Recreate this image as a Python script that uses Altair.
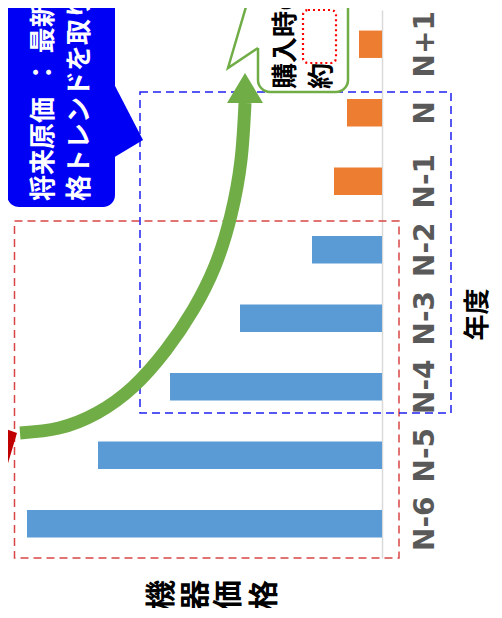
import altair as alt
import pandas as pd

# ---------------- chart data ----------------
categories = ["N-6", "N-5", "N-4", "N-3", "N-2", "N-1", "N", "N+1"]
prices = [355, 284, 212, 142, 70, 48, 35, 23]
periods = ["過去", "過去", "過去", "過去", "過去", "将来", "将来", "将来"]
period_names = ["過去", "将来"]
period_colors = ["#5B9BD5", "#ED7D31"]
x_axis_title = "年度"
y_axis_title = ["機", "器", "価", "格"]
note_blue = ["将来原価\u00a0\u00a0：\u00a0最新の価", "格トレンドを取り込んだ"]
note_green = ["購入時の", "約"]

# growth-curve arrow path (plot pixels)
curve_x = [12, 51, 89, 125, 158, 185, 207, 223, 233, 237]
curve_y = [423, 418, 403, 377, 340, 300, 256, 205, 150, 93]

W, H = 374, 548
GREEN = "#70AD47"
JP = "Noto Sans CJK JP"

bars_df = pd.DataFrame({"cat": categories, "price": prices, "period": periods})

bars = alt.Chart(bars_df).mark_bar().encode(
    y=alt.Y(
        "cat:N",
        sort=categories[::-1],
        scale=alt.Scale(paddingInner=0.6, paddingOuter=0.3),
        axis=alt.Axis(
            orient="right", title=x_axis_title, ticks=False, tickSize=0,
            domainColor="#D9D9D9", domainWidth=1.5,
            labelAngle=270, labelAlign="center", labelBaseline="top",
            labelPadding=29, labelFont="DejaVu Sans", labelFontSize=28,
            labelFontWeight="bold", labelColor="#595959", labelOverlap=False,
            titleAngle=270, titleAlign="center", titleBaseline="middle",
            titleX=95, titleY=304, titleFont=JP, titleFontSize=26,
            titleFontWeight="bold", titleColor="#000000",
        ),
    ),
    x=alt.X("price:Q", scale=alt.Scale(domain=[0, W], reverse=True, nice=False), axis=None),
    color=alt.Color("period:N", scale=alt.Scale(domain=period_names, range=period_colors), legend=None),
)


def PX(f):
    return alt.X(f"{f}:Q", scale=None)


def PY(f):
    return alt.Y(f"{f}:Q", scale=None)


def box(x, x2, y, y2, **mk):
    d = pd.DataFrame({"x": [x], "x2": [x2], "y": [y], "y2": [y2]})
    return alt.Chart(d).mark_rect(**mk).encode(x=PX("x"), x2="x2", y=PY("y"), y2="y2")


def tri(xs, ys, ys2, color):
    d = pd.DataFrame({"x": xs, "y": ys, "y2": ys2})
    return alt.Chart(d).mark_area(color=color, opacity=1).encode(x=PX("x"), y=PY("y"), y2="y2")


def txt(s, x, y, **mk):
    d = pd.DataFrame({"t": [s], "x": [x], "y": [y]})
    return alt.Chart(d).mark_text(angle=270, font=JP, fontWeight="bold", **mk).encode(
        x=PX("x"), y=PY("y"), text="t:N")


red_frame = box(6.5, 391, 211, 548, fill="transparent", stroke="#D94646",
                strokeWidth=1.5, strokeDash=[8, 5])
blue_frame = box(132, 443, 82, 403, fill="transparent", stroke="#2020F0",
                 strokeWidth=1.5, strokeDash=[8, 5])

curve_df = pd.DataFrame({"x": curve_x, "y": curve_y, "i": list(range(len(curve_x)))})
curve = alt.Chart(curve_df).mark_line(color=GREEN, strokeWidth=13, interpolate="natural",
                                      strokeCap="butt").encode(
    x=PX("x"), y=PY("y"), order="i:Q")

head = alt.Chart(pd.DataFrame({"x": [237], "y": [78]})).mark_point(
    shape="M0,-0.833L1,0.833L-1,0.833Z", filled=True, size=1296, color=GREEN,
    opacity=1, strokeWidth=0).encode(x=PX("x"), y=PY("y"))

red_tri = tri([-8, 9], [417, 423], [480, 423], "#C00000")

blue_box = box(-1, 107, -30, 197, fill="#0000F5", cornerRadius=12)
blue_ptr = tri([105, 135], [72, 130], [148, 130], "#0000F5")
blue_t1 = txt(note_blue[0], 35.5, 191, align="left", baseline="middle", fontSize=26, color="white")
blue_t2 = txt(note_blue[1], 71.5, 191, align="left", baseline="middle", fontSize=26, color="white")

green_box = box(250, 340, -50, 82, fill="white", stroke=GREEN, strokeWidth=2.5, cornerRadius=12)
green_ptr_fill = tri([220, 250, 252], [58, -44, -44], [58, 38, 38], "white")
gp_df = pd.DataFrame({"x": [250, 220, 250], "y": [-44, 58, 38], "i": [0, 1, 2]})
green_ptr_line = alt.Chart(gp_df).mark_line(color=GREEN, strokeWidth=2.5).encode(
    x=PX("x"), y=PY("y"), order="i:Q")
green_t1 = txt(note_green[0], 277.5, 79, align="left", baseline="middle", fontSize=26, color="black")
green_t2 = txt(note_green[1], 313.5, 79, align="left", baseline="middle", fontSize=26, color="black")
dotted = box(295, 328, 0, 53, fill="transparent", stroke="#FF0000", strokeWidth=2.2,
             strokeDash=[2, 3], cornerRadius=5)

yt_df = pd.DataFrame({"t": y_axis_title, "x": [154.4, 187.9, 220.9, 256.9], "y": [585] * 4})
ytitle = alt.Chart(yt_df).mark_text(angle=270, font=JP, fontWeight="bold", fontSize=30,
                                    align="center", baseline="middle", color="black").encode(
    x=PX("x"), y=PY("y"), text="t:N")

chart = alt.layer(
    bars, red_frame, blue_frame, curve, head, red_tri,
    blue_box, blue_ptr, blue_t1, blue_t2,
    green_box, green_ptr_fill, green_ptr_line, green_t1, green_t2, dotted,
    ytitle,
).properties(
    width=W, height=H,
    autosize=alt.AutoSizeParams(type="none"),
    padding={"top": 2, "left": 0, "right": 110, "bottom": 50},
).configure_view(stroke="transparent")

chart.save("out.html", embed_options={"renderer": "svg", "actions": False})
